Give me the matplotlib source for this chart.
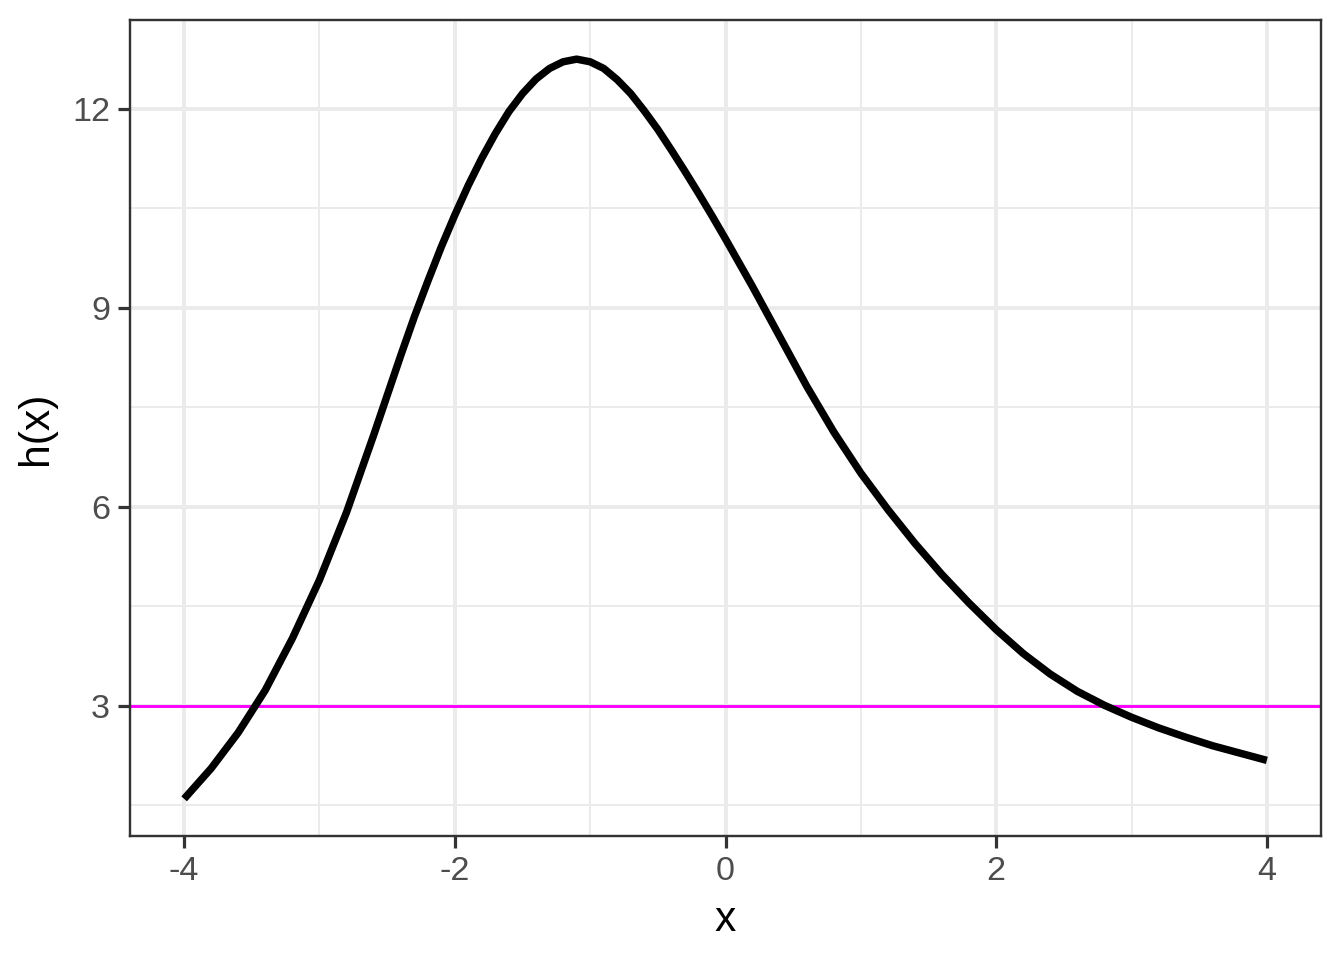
import matplotlib
matplotlib.use('Agg')
import matplotlib.pyplot as plt
from matplotlib.ticker import MultipleLocator

# values
x_vals = [-4.0, -3.8, -3.6, -3.4, -3.2, -3.0, -2.8, -2.6, -2.4, -2.3,
          -2.2, -2.1, -2.0, -1.9, -1.8, -1.7, -1.6, -1.5, -1.4, -1.3,
          -1.2, -1.1, -1.0, -0.9, -0.8, -0.7, -0.6, -0.5, -0.4, -0.3,
          -0.2, -0.1, 0.0, 0.2, 0.4, 0.6, 0.8, 1.0, 1.2, 1.4,
          1.6, 1.8, 2.0, 2.2, 2.4, 2.6, 2.8, 3.0, 3.2, 3.4,
          3.6, 3.8, 4.0]
h_vals = [1.60, 2.06, 2.60, 3.24, 4.02, 4.90, 5.92, 7.08, 8.28, 8.86,
          9.40, 9.92, 10.40, 10.85, 11.26, 11.63, 11.96, 12.23, 12.45, 12.61,
          12.71, 12.75, 12.71, 12.61, 12.44, 12.23, 11.97, 11.69, 11.38, 11.06,
          10.73, 10.39, 10.04, 9.32, 8.57, 7.82, 7.13, 6.51, 5.96, 5.45,
          4.98, 4.55, 4.15, 3.79, 3.48, 3.22, 3.01, 2.83, 2.67, 2.53,
          2.40, 2.29, 2.18]
h_line = 3

plt.rcParams['font.family'] = ['Liberation Sans', 'DejaVu Sans']
plt.rcParams['axes.unicode_minus'] = False

fig = plt.figure(figsize=(7, 5), dpi=192)
ax = fig.add_axes([130 / 1344, 1 - 836 / 960, (1321 - 130) / 1344, (836 - 20) / 960])

ax.plot(x_vals, h_vals, color='black', lw=2.8, solid_capstyle='butt',
        solid_joinstyle='round', zorder=3)
ax.axhline(h_line, color='#FF00FF', lw=1.1, zorder=2)

ax.set_xlim(-4.4, 4.4)
ax.set_ylim(1.04, 13.34)
ax.xaxis.set_major_locator(MultipleLocator(2))
ax.xaxis.set_minor_locator(MultipleLocator(1))
ax.yaxis.set_major_locator(MultipleLocator(3))
ax.yaxis.set_minor_locator(MultipleLocator(1.5))

ax.grid(which='major', color='#EBEBEB', lw=1.5)
ax.grid(which='minor', color='#EBEBEB', lw=0.75)
ax.set_axisbelow(True)

for s in ax.spines.values():
    s.set_color('#333333')
    s.set_linewidth(0.9)

ax.tick_params(which='major', length=4.5, width=1.2, color='#333333',
               labelsize=12.8, labelcolor='#4D4D4D', pad=3)
ax.tick_params(which='minor', length=0)

ax.set_xlabel('x', fontsize=16, labelpad=5)
ax.set_ylabel('h(x)', fontsize=16, labelpad=6)

fig.savefig('out.png', dpi=192)
